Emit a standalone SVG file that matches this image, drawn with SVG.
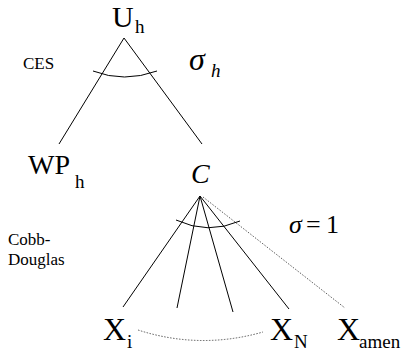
<svg xmlns="http://www.w3.org/2000/svg" width="404" height="353" viewBox="0 0 404 353">
<style>
.big{font-size:32px}
.sub{font-size:19px}
.lbl{font-size:17px}
.it{font-style:italic}
.ln{stroke:#000;stroke-width:1;fill:none}
.dot{stroke:#333;stroke-width:0.8;fill:none;stroke-dasharray:1.5,1.5}
</style>
<rect width="404" height="353" fill="#fff"/>
<g id="connectors">
<line class="ln" x1="124" y1="38" x2="59" y2="144"/>
<line class="ln" x1="124" y1="38" x2="202" y2="144"/>
<path class="ln" d="M93,71 Q124,83 157,71"/>
<line class="ln" x1="200" y1="196" x2="123" y2="307"/>
<line class="ln" x1="200" y1="196" x2="177" y2="308"/>
<line class="ln" x1="200" y1="196" x2="233" y2="312"/>
<line class="ln" x1="200" y1="196" x2="289" y2="309"/>
<line class="dot" x1="203" y1="197" x2="345" y2="308"/>
<path class="ln" d="M176,220 Q208,235 240,221"/>
<path class="dot" d="M138,330 Q200,350 263,332"/>
</g>
<g font-family="Liberation Serif, Times New Roman, serif" fill="#000">
<g id="U_h"><text x="112" y="27" font-size="30">U</text><text x="135" y="33" class="sub">h</text></g>
<g id="WP_h"><text x="28" y="174" font-size="28">WP</text><text x="75" y="188" class="sub">h</text></g>
<g id="C"><text x="191" y="183" class="it" font-size="28">C</text></g>
<g id="X_i"><text x="103" y="340" class="big">X</text><text x="127" y="348" class="sub">i</text></g>
<g id="X_N"><text x="270" y="340" class="big">X</text><text x="294" y="348" class="sub">N</text></g>
<g id="X_amen"><text x="337" y="340" class="big">X</text><text x="359" y="348" class="sub">amen</text></g>
<g id="label_CES"><text x="23" y="69" class="lbl">CES</text></g>
<g id="label_CobbDouglas"><text x="8" y="245" class="lbl">Cobb-</text><text x="8" y="265" class="lbl">Douglas</text></g>
<g id="label_sigma_h"><text x="189" y="70" class="it" font-size="32">σ</text><text x="211" y="77" class="it sub">h</text></g>
<g id="label_sigma_1"><text x="289" y="233" class="it" font-size="26">σ</text><text x="306" y="233" font-size="26">=</text><text x="326" y="233" font-size="26">1</text></g>
</g>
</svg>
